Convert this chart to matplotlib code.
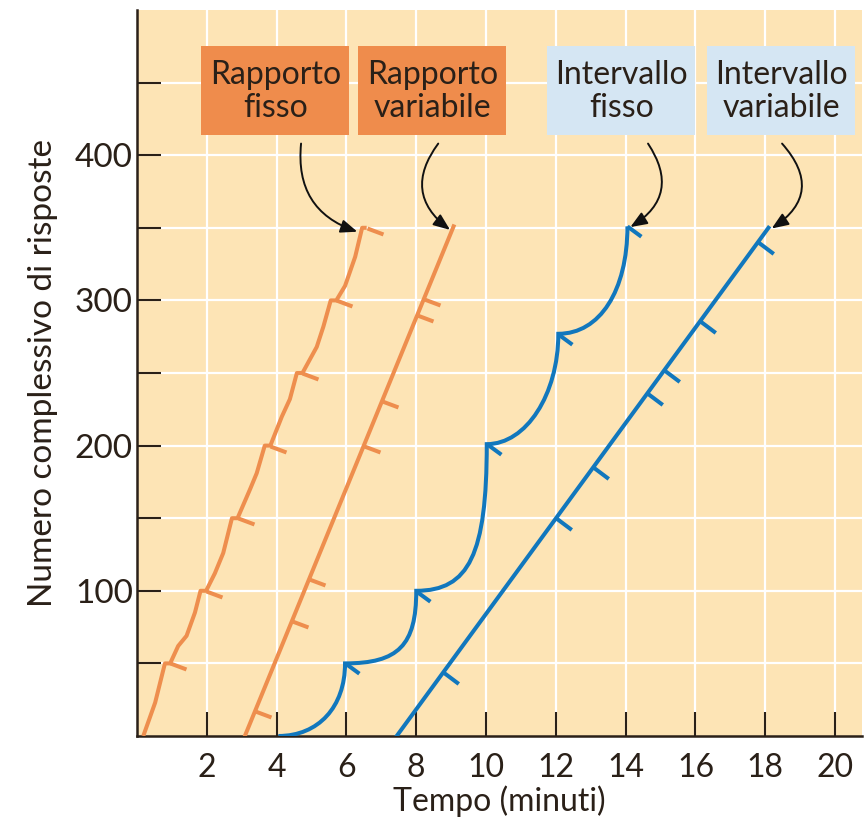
import numpy as np
import matplotlib
matplotlib.use("Agg")
import matplotlib.pyplot as plt
from matplotlib.path import Path
from matplotlib.patches import PathPatch, Rectangle

# --- data ---
# fixed ratio (orange, stepped)
fr_x = [0.18, 0.52, 0.80, 0.95, 1.18, 1.42, 1.66, 1.82, 1.98, 2.23, 2.47, 2.72, 2.88,
        3.24, 3.43, 3.66, 3.82, 4.15, 4.38, 4.58, 4.74, 5.15, 5.34, 5.55, 5.71, 5.96,
        6.25, 6.45, 6.58]
fr_y = [0, 23, 50, 50, 62, 69, 85, 100, 100, 112, 126, 150, 150,
        170, 181, 200, 200, 220, 232, 250, 250, 268, 282, 300, 300, 310,
        330, 350, 350]
fr_rinf_x = [0.95, 1.98, 2.88, 3.82, 4.74, 5.71, 6.58]
fr_rinf_y = [50, 100, 150, 200, 250, 300, 350]

# variable ratio (orange, straight)
vr_x = [3.09, 9.07]
vr_y = [0, 351]
vr_rinf_y = [17, 79, 108, 200, 231, 290, 301]

# fixed interval (blue, scallops)
fi_x = [4.05, 5.96, 8.00, 10.02, 12.07, 14.05]
fi_y = [0, 50, 100, 201, 277, 351]
fi_bend = [0.6, 0.75, 0.75, 0.55, 0.6]

# variable interval (blue, straight)
vi_x = [7.44, 18.09]
vi_y = [0, 350]
vi_rinf_y = [44, 150, 185, 236, 252, 286, 340]

labels = ["Rapporto\nfisso", "Rapporto\nvariabile", "Intervallo\nfisso", "Intervallo\nvariabile"]
label_x = [3.96, 8.46, 13.88, 18.45]
label_y = 444
arrow_start_x = [4.7, 8.63, 14.64, 18.48]
arrow_end = [(6.35, 347), (9.0, 348), (14.1, 350), (18.15, 349)]
arrow_rad = [0.4, 0.5, -0.52, -0.58]

orange = "#EE8E4E"
blue = "#1177BD"
box_orange = "#EF8C4C"
box_blue = "#D5E6F3"
bg = "#FDE4B5"
dark = "#2A2018"

def hash_marker(dx, dy):
    return Path([(0, 0), (dx, -dy)], [Path.MOVETO, Path.LINETO])

fig = plt.figure(figsize=(8.64, 8.21), dpi=100)
ax = fig.add_axes([137 / 864, 85 / 821, 725 / 864, 726 / 821])
ax.set_facecolor(bg)
ax.set_xlim(0, 20.77)
ax.set_ylim(0, 500)

ax.set_xticks(np.arange(2, 21, 2))
ax.set_yticks([100, 200, 300, 400])
ax.set_yticks([50, 150, 250, 350, 450], minor=True)
for v in np.arange(2, 21, 2):
    ax.axvline(v, color="white", lw=1.6, zorder=0.5)
for v in np.arange(50, 500, 50):
    ax.axhline(v, color="white", lw=1.6, zorder=0.5)

ax.tick_params(axis="both", which="both", direction="in", length=17, width=1.5,
               color=dark)
ax.tick_params(axis="y", labelsize=24, labelcolor=dark, pad=3)
ax.tick_params(axis="x", labelsize=23, labelcolor=dark, pad=12)
for lab in ax.get_yticklabels():
    lab.set_family(["Lato", "DejaVu Sans"])
for lab in ax.get_xticklabels():
    lab.set_family(["Lato", "DejaVu Sans"])
for s in ["top", "right"]:
    ax.spines[s].set_visible(False)
for s in ["left", "bottom"]:
    ax.spines[s].set_color(dark)
    ax.spines[s].set_linewidth(1.8)

ax.set_xlabel("Tempo (minuti)", fontsize=23, color=dark, labelpad=2,
              family=["Lato", "DejaVu Sans"])
ax.set_ylabel("Numero complessivo di risposte", fontsize=24, color=dark, labelpad=12,
              family=["Lato", "DejaVu Sans"])

lw = 2.9
# fixed ratio
ax.plot(fr_x, fr_y, color=orange, lw=lw, solid_joinstyle="round", solid_capstyle="butt", zorder=3)
ax.plot(fr_rinf_x, fr_rinf_y, ls="none", marker=hash_marker(16, 6), ms=23,
        mec=orange, mfc="none", mew=lw, zorder=3)

# variable ratio
ax.plot(vr_x, vr_y, color=orange, lw=lw, zorder=3)
ax.plot(np.interp(vr_rinf_y, vr_y, vr_x), vr_rinf_y, ls="none", marker=hash_marker(16, 6),
        ms=23, mec=orange, mfc="none", mew=lw, zorder=3)

# fixed interval: scallops between reinforcements
verts = [(fi_x[0], fi_y[0])]
codes = [Path.MOVETO]
for i in range(len(fi_x) - 1):
    x0, y0, x1, y1 = fi_x[i], fi_y[i], fi_x[i + 1], fi_y[i + 1]
    k = fi_bend[i]
    verts += [(x0 + k * (x1 - x0), y0), (x1, y1 - k * (y1 - y0)), (x1, y1)]
    codes += [Path.CURVE4] * 3
ax.add_patch(PathPatch(Path(verts, codes), fill=False, ec=blue, lw=lw,
                       joinstyle="miter", zorder=3))
ax.plot(fi_x[1:], fi_y[1:], ls="none", marker=hash_marker(15, 11), ms=20,
        mec=blue, mfc="none", mew=lw, zorder=3)

# variable interval
ax.plot(vi_x, vi_y, color=blue, lw=lw, zorder=3)
ax.plot(np.interp(vi_rinf_y, vi_y, vi_x), vi_rinf_y, ls="none", marker=hash_marker(16, 12),
        ms=22, mec=blue, mfc="none", mew=lw, zorder=3)

# label boxes and arrows
for i, txt in enumerate(labels):
    fc = box_orange if i < 2 else box_blue
    ax.add_patch(Rectangle((label_x[i] - 2.12, 414), 4.24, 61.5, fc=fc, ec="none", zorder=4))
    ax.text(label_x[i], label_y, txt, ha="center", va="center", fontsize=23,
            color=dark, linespacing=1.1, family=["Lato", "DejaVu Sans"], zorder=5)
    ax.annotate("", xy=arrow_end[i], xytext=(arrow_start_x[i], 408),
                arrowprops=dict(arrowstyle="-|>,head_length=1.0,head_width=0.4",
                                connectionstyle=f"arc3,rad={arrow_rad[i]}",
                                color="#111111", lw=1.4, shrinkA=0, shrinkB=1),
                zorder=5)

fig.savefig("out.png", dpi=100, facecolor="white")
